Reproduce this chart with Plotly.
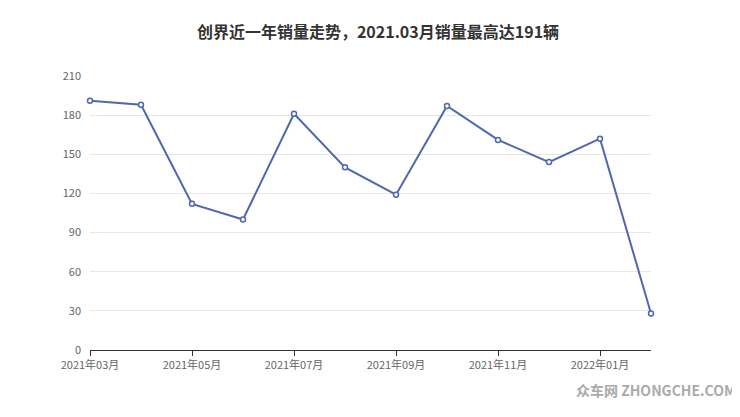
import plotly.graph_objects as go

months = ["2021年03月","2021年04月","2021年05月","2021年06月","2021年07月","2021年08月",
          "2021年09月","2021年10月","2021年11月","2021年12月","2022年01月","2022年02月"]
sales = [191, 188, 112, 100, 181, 140, 119, 187, 161, 144, 162, 28]
tick_labels = months[::2]
y_ticks = [0, 30, 60, 90, 120, 150, 180, 210]

fig = go.Figure(go.Scatter(
    x=list(range(len(months))), y=sales, mode="lines+markers",
    line=dict(color="#4f68ad", width=2),
    marker=dict(size=5, color="white", line=dict(color="#4f68ad", width=1.5)),
    cliponaxis=False,
))
fig.update_layout(
    width=740, height=417, paper_bgcolor="white", plot_bgcolor="white",
    margin=dict(l=82, r=97, t=68, b=75),
    title=dict(text="<b>创界近一年销量走势，2021.03月销量最高达191辆</b>", x=0.5, y=0.955,
               font=dict(size=16, color="#333", family="Noto Sans CJK SC")),
    showlegend=False,
    font=dict(family="Noto Sans CJK SC", size=11, color="#666"),
)
fig.update_xaxes(range=[0, 11], tickvals=list(range(0, 12, 2)), ticktext=tick_labels,
                 showgrid=False, showline=True, linecolor="#333", ticks="outside",
                 ticklen=5, tickcolor="#333", zeroline=False)
fig.update_yaxes(range=[0, 210], tickvals=y_ticks, showgrid=True, gridcolor="#e6e6e6",
                 zeroline=False, showline=False, ticks="", ticklabelstandoff=8)
fig.add_annotation(text="<b>众车网 ZHONGCHE.COM</b>", xref="paper", yref="paper", x=1.155, y=-0.19,
                   showarrow=False, xanchor="right",
                   font=dict(size=14, color="#aaa", family="Noto Sans CJK SC"))
fig.write_html("out.html")
